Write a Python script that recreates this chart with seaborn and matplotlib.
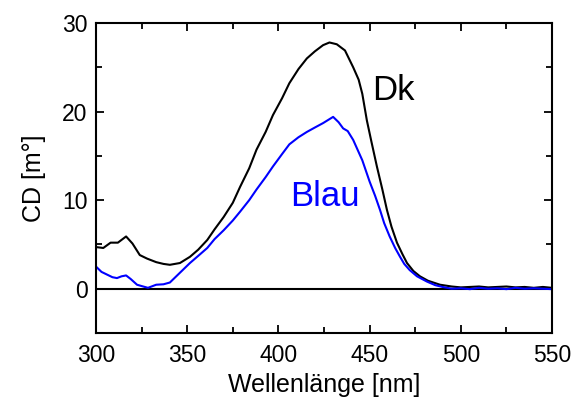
import matplotlib
matplotlib.use("Agg")
import matplotlib.pyplot as plt
import seaborn as sns
import pandas as pd
from matplotlib.ticker import MultipleLocator

wl_dk = [300, 304, 308, 312, 316.5, 320, 324, 328, 333, 337, 340.5, 346, 351.5, 356, 361, 365, 370, 375, 379, 384, 388, 393, 397, 402, 406, 411, 415.6, 420, 424.5, 428, 432, 436.5, 441, 444, 446, 448.5, 451, 454, 457, 459.5, 462, 465, 468, 470.5, 474, 477.6, 482, 488.6, 495, 500, 505, 510, 515, 520, 525, 530, 535, 540, 545, 550]
cd_dk = [4.7, 4.6, 5.2, 5.2, 5.9, 5.1, 3.8, 3.4, 3.0, 2.8, 2.7, 2.9, 3.6, 4.4, 5.5, 6.7, 8.1, 9.7, 11.5, 13.6, 15.7, 17.7, 19.6, 21.5, 23.2, 24.8, 26.0, 26.8, 27.5, 27.8, 27.6, 26.9, 25.0, 23.6, 22.0, 19.0, 16.6, 13.8, 11.2, 8.9, 7.0, 5.2, 3.9, 2.9, 2.0, 1.4, 0.9, 0.45, 0.25, 0.15, 0.2, 0.25, 0.15, 0.2, 0.25, 0.15, 0.2, 0.1, 0.2, 0.1]

wl_blau = [300, 303, 306, 309, 311.5, 314, 316.5, 319, 322.5, 325, 328.5, 333, 337, 340.5, 346, 351.5, 356, 361, 365, 370, 375, 379, 384, 388, 393, 397, 402, 406, 411, 415.6, 420, 424.5, 430, 433, 435.5, 438, 441, 446, 450, 453, 455.7, 458, 461, 464, 466.7, 469, 472, 476, 481.5, 486, 490, 495, 500, 505, 510, 515, 520, 525, 530, 535, 540, 545, 550]
cd_blau = [2.5, 1.9, 1.6, 1.3, 1.2, 1.4, 1.5, 1.1, 0.45, 0.3, 0.1, 0.45, 0.5, 0.7, 1.8, 2.9, 3.7, 4.6, 5.6, 6.6, 7.7, 8.7, 10.0, 11.2, 12.6, 13.8, 15.2, 16.3, 17.1, 17.7, 18.2, 18.7, 19.4, 18.8, 18.1, 17.8, 16.8, 14.5, 12.1, 10.5, 8.9, 7.4, 5.9, 4.6, 3.6, 2.8, 2.1, 1.4, 0.8, 0.4, 0.2, 0.0, 0.05, -0.05, 0.1, 0.0, 0.05, -0.05, 0.1, 0.0, 0.05, 0.0, -0.05]

labels = ["Dk", "Blau"]
x_ticks = [300, 350, 400, 450, 500, 550]
y_ticks = [0, 10, 20, 30]

sns.set_theme(style="ticks")
plt.rcParams['font.family'] = ['Liberation Sans', 'DejaVu Sans']
plt.rcParams['text.color'] = 'black'
plt.rcParams['axes.labelcolor'] = 'black'

df = pd.concat([
    pd.DataFrame({"wl": wl_dk, "cd": cd_dk, "s": labels[0]}),
    pd.DataFrame({"wl": wl_blau, "cd": cd_blau, "s": labels[1]}),
])

fig = plt.figure(figsize=(5.74, 4.08), dpi=100)
ax = fig.add_axes([96/574, 1 - 333/408, (552-96)/574, (333-23)/408])

ax.axhline(0, color="black", lw=1.5, zorder=1)
sns.lineplot(data=df, x="wl", y="cd", hue="s", palette={"Dk": "black", "Blau": "#0000ff"},
             lw=1.5, legend=False, ax=ax, estimator=None, sort=False, zorder=2)

ax.set_xlim(300, 550)
ax.set_ylim(-5, 30)
ax.set_xticks(x_ticks)
ax.set_yticks(y_ticks)
ax.xaxis.set_minor_locator(MultipleLocator(25))
ax.yaxis.set_minor_locator(MultipleLocator(5))
ax.tick_params(which="both", direction="in", top=True, right=True, labelsize=16.5, width=1.3,
               colors="black", labelcolor="black")
ax.tick_params(axis="x", which="both", pad=8)
ax.tick_params(axis="y", which="both", pad=6)
ax.tick_params(which="major", length=6)
ax.tick_params(which="minor", length=4)
for sp in ax.spines.values():
    sp.set_linewidth(1.5)
    sp.set_color("black")

ax.set_xlabel("Wellenlänge [nm]", fontsize=18, labelpad=4, color="black")
ax.set_ylabel("CD [m°]", fontsize=18, labelpad=12, color="black")

ax.text(462.8, 22.4, labels[0], fontsize=25, color="black", ha="center", va="center")
ax.text(425.5, 10.4, labels[1], fontsize=25, color="#0000ff", ha="center", va="center")

fig.savefig("out.png", dpi=100)
